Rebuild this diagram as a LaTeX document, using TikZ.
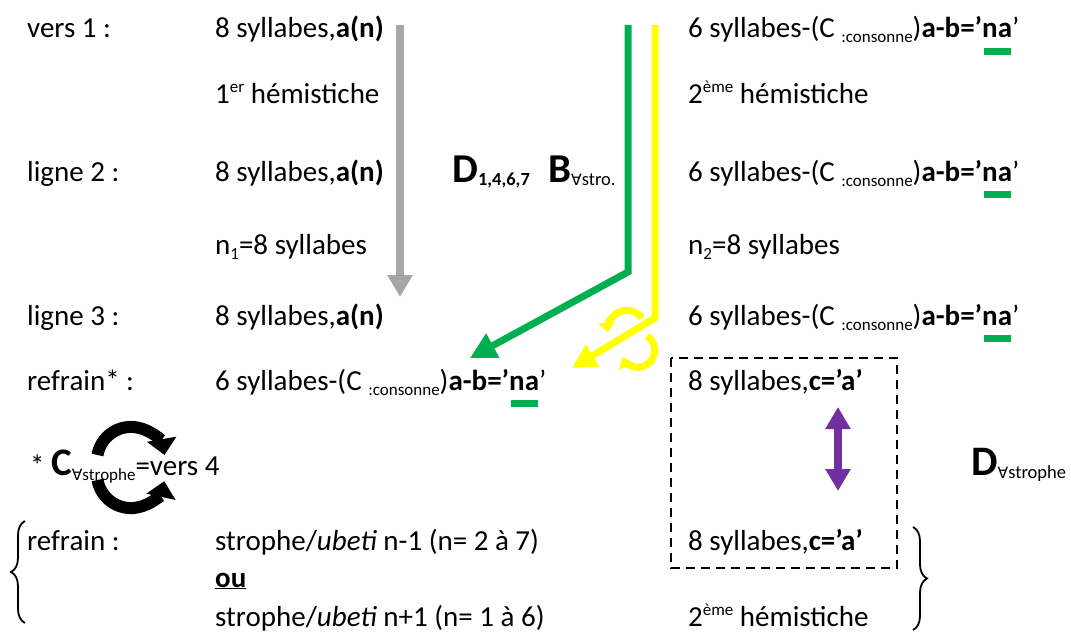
\documentclass[tikz,border=0pt]{standalone}
\usepackage{fontspec}
\setmainfont{Carlito}
\newfontfamily\symfont{DejaVu Sans}
\usetikzlibrary{arrows.meta,decorations.pathreplacing}
\definecolor{grn}{HTML}{00B050}
\definecolor{ylw}{HTML}{FFFF00}
\definecolor{gry}{HTML}{A6A6A6}
\definecolor{purp}{HTML}{7030A0}
\newcommand\smallsz{\fontsize{17}{20}\selectfont}
\newcommand\subsz{\fontsize{18.5}{20}\selectfont}
\newcommand\lowr[1]{\raisebox{-5pt}{\smallsz #1}}
\newcommand\lowb[1]{\raisebox{-3pt}{\subsz #1}}
\newcommand\highr[1]{\raisebox{11pt}{\smallsz #1}}
\newcommand\fa{{\symfont\fontsize{15.5}{16}\selectfont ∀}}
\newcommand\gna{\setbox0\hbox{\bfseries na}\rlap{\color{grn}\hspace{1.5pt}\rule[-17pt]{\dimexpr\wd0-3pt\relax}{7pt}}\box0}
\newcommand\sixline{6 syllabes-(C \lowr{:consonne})\textbf{a-b=’}\gna’}
\newcommand\eightline{8 syllabes,\textbf{a(n)}}
\newcommand\caline{8 syllabes,\textbf{c=’a’}}
\tikzset{
  txt/.style={anchor=base west,inner sep=0pt,font=\fontsize{29}{34}\selectfont},
  grayarrow/.style={draw=gry,line width=8pt,-{Triangle[width=24pt,length=22pt]}},
  grnarrow/.style={draw=grn,line width=7pt,-{Triangle[width=26pt,length=26pt]}},
  ylwarrow/.style={draw=ylw,line width=7pt,-{Triangle[width=24pt,length=24pt]}},
  ylwcirc/.style={draw=ylw,line width=7pt,-{Triangle[width=16pt,length=10pt]}},
  blkcirc/.style={draw=black,line width=12pt,-{Triangle[width=29pt,length=16pt]}},
  purparrow/.style={draw=purp,line width=8pt,{Triangle[width=24pt,length=22pt]}-{Triangle[width=24pt,length=22pt]}},
  dbox/.style={draw,line width=2.5pt,dash pattern=on 9pt off 6pt},
  bracestyle/.style={draw,line width=1.8pt,decorate,decoration={brace,amplitude=14pt}}
}
\begin{document}
\begin{tikzpicture}[x=1pt,y=-1pt]
\useasboundingbox (0,0) rectangle (1071,634);
% left column
\node[txt] (l1) at (27,38) {vers 1 :};
\node[txt] (l3) at (27,181) {ligne 2 :};
\node[txt] (l5) at (27,325) {ligne 3 :};
\node[txt] (l6) at (27,390) {refrain* :};
\node[txt] (l7) at (30,475) {* {\fontsize{39}{40}\selectfont\bfseries C}\lowr{\fa strophe}=vers 4};
\node[txt] (l8) at (27,550) {refrain :};
% middle column
\node[txt] (m1) at (215,38) {\eightline};
\node[txt] (m2) at (215,103) {1\highr{er} hémistiche};
\node[txt] (m3) at (215,181) {\eightline};
\node[txt] (m4) at (215,254) {n\lowr{1}=8 syllabes};
\node[txt] (m5) at (215,325) {\eightline};
\node[txt] (m6) at (215,390) {\sixline};
\node[txt] (m8) at (215,550) {strophe/\textit{ubeti} n-1 (n= 2 à 7)};
\node[txt] (m9) at (215,587) {\underline{\textbf{ou}}};
\node[txt] (m10) at (215,626) {strophe/\textit{ubeti} n+1 (n= 1 à 6)};
% right column
\node[txt] (r1) at (688,38) {\sixline};
\node[txt] (r2) at (688,103) {2\highr{ème} hémistiche};
\node[txt] (r3) at (688,181) {\sixline};
\node[txt] (r4) at (688,254) {n\lowr{2}=8 syllabes};
\node[txt] (r5) at (688,325) {\sixline};
\node[txt] (r6) at (688,390) {\caline};
\node[txt] (r8) at (688,550) {\caline};
\node[txt] (r10) at (688,626) {2\highr{ème} hémistiche};
% labels
\node[txt] (dl) at (452,182) {{\fontsize{41}{42}\selectfont\bfseries D}\lowb{\bfseries 1,4,6,7}};
\node[txt] (bl) at (548,182) {{\fontsize{41}{42}\selectfont\bfseries B}\lowb{\fa stro.}};
\node[txt] (dr) at (971,475) {{\fontsize{42}{42}\selectfont\bfseries D}\lowb{\fa strophe}};
% coordinates
\coordinate (g1) at (400,25);
\coordinate (g2) at (400,297);
\coordinate (gr1) at (628,25);
\coordinate (gr2) at (628,272);
\coordinate (gr3) at (470,358);
\coordinate (y1) at (655,25);
\coordinate (y2) at (655,318);
\coordinate (y3) at (572,368);
\coordinate (p1) at (838,407);
\coordinate (p2) at (838,491);
\coordinate (bu) at (97.5,455);
\coordinate (bd) at (97.5,480);
\coordinate (yu) at (642,318);
\coordinate (yd) at (647,336);
% arrows
\draw[grayarrow] (g1) -- (g2);
\draw[grnarrow] (gr1) -- (gr2) -- (gr3);
\draw[ylwarrow] (y1) -- (y2) -- (y3);
\draw[ylwcirc] (yu) arc[start angle=-37,end angle=-189,radius=19];
\draw[ylwcirc] (yd) arc[start angle=-57,end angle=155,radius=17];
\draw[blkcirc] (bu) arc[start angle=-170,end angle=-10,radius=34];
\draw[blkcirc] (bd) arc[start angle=170,end angle=12,radius=34];
\draw[purparrow] (p1) -- (p2);
% dashed box
\draw[dbox] (671,358) rectangle (897,568);
% braces
\draw[bracestyle] (25,623) -- (25,521);
\draw[bracestyle] (913,527) -- (913,630);
\end{tikzpicture}
\end{document}
